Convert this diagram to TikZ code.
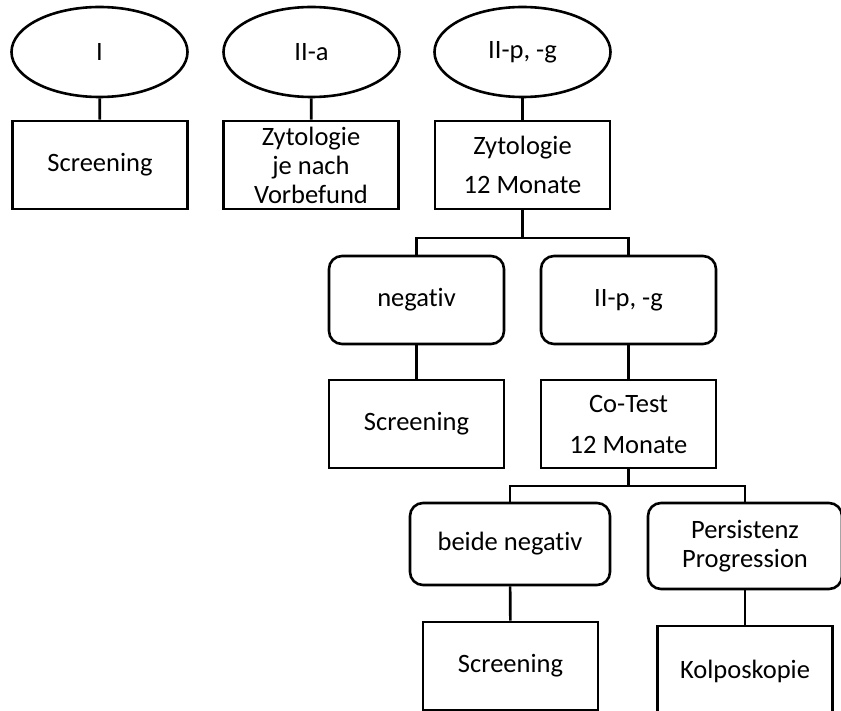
\documentclass[tikz,border=0pt]{standalone}
\usepackage{fontspec}
\setmainfont{Carlito}[Ligatures=NoCommon]
\usetikzlibrary{shapes.geometric}
\begin{document}
\begin{tikzpicture}[x=1pt,y=-1pt,
  every node/.style={font=\fontsize{26.5}{29}\selectfont, align=center, inner sep=0pt},
  oval/.style={ellipse, draw, line width=2.6pt, minimum width=176pt, minimum height=90pt},
  sqbox/.style={rectangle, draw, line width=2.6pt, minimum width=175pt, minimum height=88pt},
  rbox/.style={rectangle, rounded corners=13pt, draw, line width=2.6pt, minimum width=175pt, minimum height=88pt},
  conn/.style={line width=2.6pt}]
\useasboundingbox (0,0) rectangle (841,711);
% top row
\node[oval] (e1) at (99.5,52) {I};
\node[oval] (e2) at (311.5,52) {II-a};
\node[oval] (e3) at (522.5,52) {II-p, -g};
\node[sqbox] (b1) at (100,165) {Screening};
\node[sqbox] (b2) at (311,165) {Zytologie\\je nach\\Vorbefund};
\node[sqbox] (b3) at (522.5,165) {Zytologie\\[10pt]12 Monate};
% second level
\node[rbox] (r1) at (416.5,300) {negativ};
\node[rbox] (r2) at (628.5,300) {II-p, -g};
\node[sqbox] (b4) at (416.5,424) {Screening};
\node[sqbox] (b5) at (628.5,424) {Co-Test\\[12pt]12 Monate};
% third level
\node[rbox, minimum width=200pt, minimum height=82pt] (r3) at (510,544) {beide negativ};
\node[rbox, minimum width=194pt, minimum height=86pt] (r4) at (745,546) {Persistenz\\Progression};
\node[sqbox] (b6) at (510.5,666) {Screening};
\node[sqbox, minimum height=90pt] (b7) at (745,671) {Kolposkopie};
% connectors
\draw[conn] (e1) -- (b1);
\draw[conn] (e2) -- (b2);
\draw[conn] (e3) -- (b3);
\coordinate (j1) at (522.5,238);
\draw[conn] (b3.south) -- (j1);
\draw[conn] (r1.north) |- (j1) -| (r2.north);
\draw[conn] (r1) -- (b4);
\draw[conn] (r2) -- (b5);
\coordinate (j2) at (628.5,486);
\draw[conn] (b5.south) -- (j2);
\draw[conn] (r3.north) |- (j2) -| (r4.north);
\draw[conn] (r3) -- (b6);
\draw[conn] (r4) -- (b7);
\end{tikzpicture}
\end{document}
